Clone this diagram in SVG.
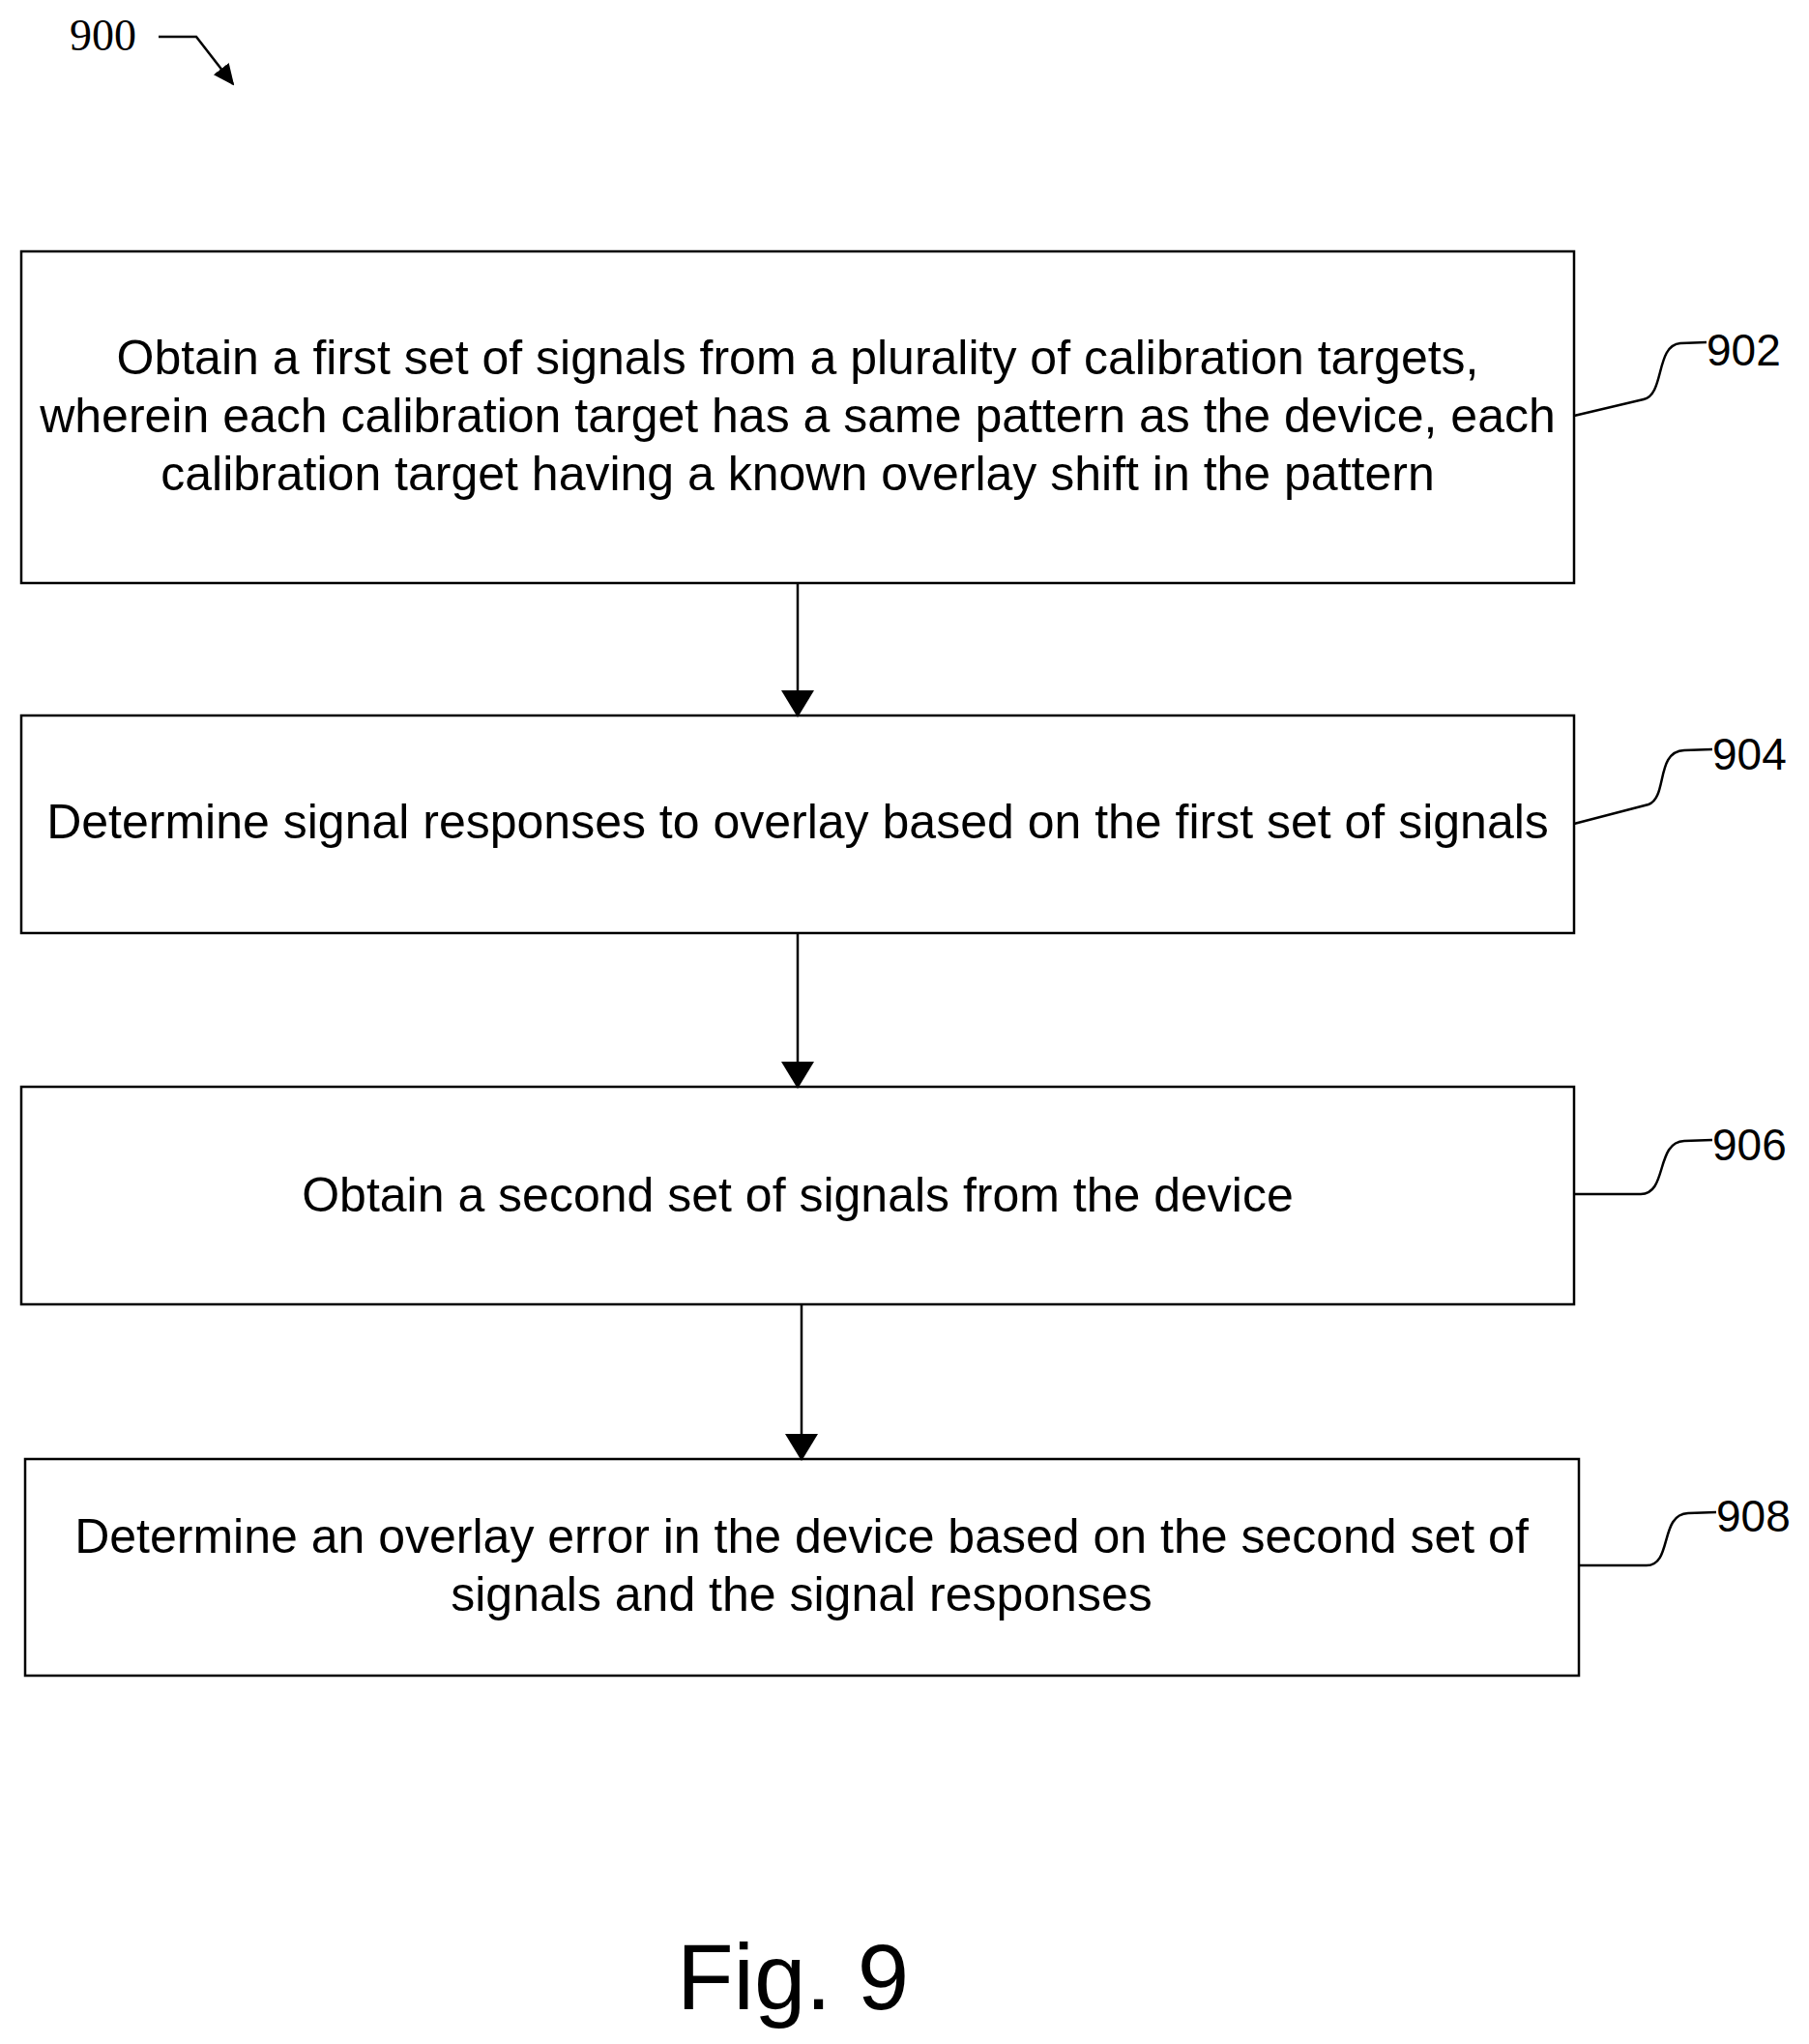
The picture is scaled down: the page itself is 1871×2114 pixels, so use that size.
<svg xmlns="http://www.w3.org/2000/svg" width="1871" height="2114" viewBox="0 0 1871 2114">
<style>
.box{fill:#fff;stroke:#000;stroke-width:2.5}
.t{font-family:"Liberation Sans",Arial,sans-serif;font-size:50px;text-anchor:middle;fill:#000}
.lbl{font-family:"Liberation Sans",Arial,sans-serif;font-size:46px;fill:#000}
.ln{fill:none;stroke:#000;stroke-width:2.5}
</style>
<defs><marker id="ah" markerWidth="22" markerHeight="22" refX="20" refY="10" orient="auto" markerUnits="userSpaceOnUse" viewBox="0 0 22 20"><path d="M0,0L22,10L0,20z" fill="#000"/></marker>
<marker id="ah2" markerWidth="28" markerHeight="34" refX="24" refY="17" orient="auto" markerUnits="userSpaceOnUse" viewBox="0 0 28 34"><path d="M0,0L28,17L0,34z" fill="#000"/></marker></defs>
<rect width="1871" height="2114" fill="#fff"/>
<g id="ref900"><text x="72" y="52" style="font-family:'Liberation Serif',serif;font-size:46px">900</text><path class="ln" d="M164,38H203L241,87" marker-end="url(#ah)"/></g>
<g id="n902"><rect class="box" x="22" y="260" width="1606" height="343"/><text class="t" x="825" y="387">Obtain a first set of signals from a plurality of calibration targets,</text><text class="t" x="825" y="447">wherein each calibration target has a same pattern as the device, each</text><text class="t" x="825" y="507">calibration target having a known overlay shift in the pattern</text><text class="lbl" x="1765" y="378">902</text><path class="ln" d="M1628,430L1700,413C1722,408 1712,357 1738,355L1765,354"/></g>
<g id="n904"><rect class="box" x="22" y="740" width="1606" height="225"/><text class="t" x="825" y="867">Determine signal responses to overlay based on the first set of signals</text><text class="lbl" x="1771" y="796">904</text><path class="ln" d="M1628,852L1705,832C1725,825 1712,777 1742,776L1771,775"/></g>
<g id="n906"><rect class="box" x="22" y="1124" width="1606" height="225"/><text class="t" x="825" y="1253">Obtain a second set of signals from the device</text><text class="lbl" x="1771" y="1200">906</text><path class="ln" d="M1628,1235H1697C1725,1235 1712,1181 1742,1180L1771,1179"/></g>
<g id="n908"><rect class="box" x="26" y="1509" width="1607" height="224"/><text class="t" x="829" y="1606">Determine an overlay error in the device based on the second set of</text><text class="t" x="829" y="1666">signals and the signal responses</text><text class="lbl" x="1775" y="1584">908</text><path class="ln" d="M1633,1619H1703C1730,1619 1716,1566 1746,1565L1775,1564"/></g>
<g id="connectors">
<path class="ln" d="M825,603V738" marker-end="url(#ah2)"/>
<path class="ln" d="M825,965V1122" marker-end="url(#ah2)"/>
<path class="ln" d="M829,1349V1507" marker-end="url(#ah2)"/>
</g>
<text x="820" y="2078" style="font-family:'Liberation Sans',Arial,sans-serif;font-size:96px;text-anchor:middle">Fig. 9</text>
</svg>
